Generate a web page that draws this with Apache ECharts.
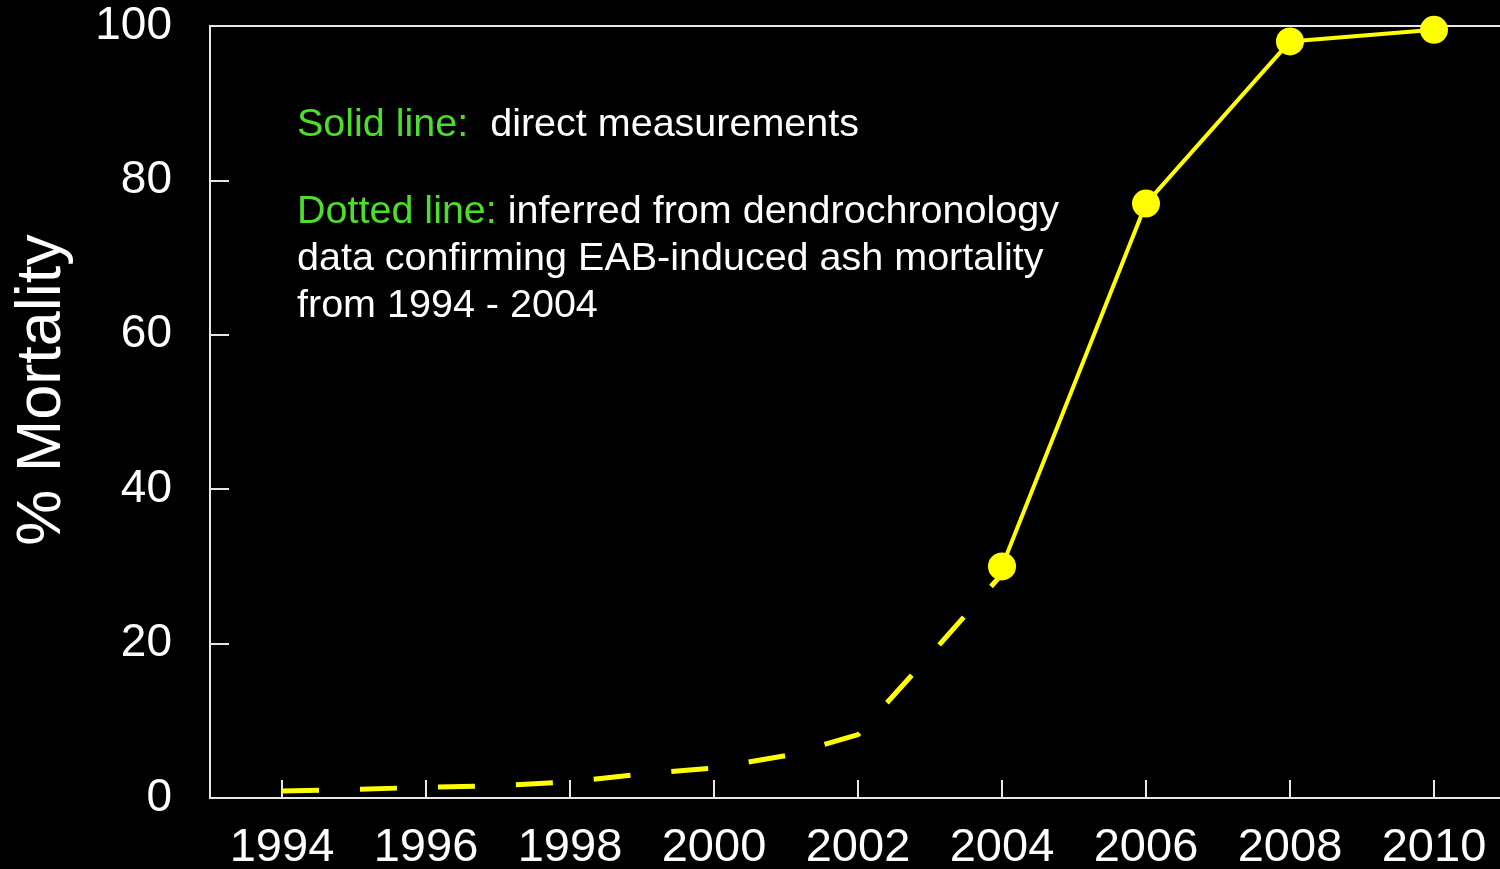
<!DOCTYPE html>
<html>
<head>
<meta charset="utf-8">
<script src="https://cdn.jsdelivr.net/npm/echarts@6/dist/echarts.min.js"></script>
<style>
html,body{margin:0;padding:0;background:#000;}
#chart{width:1500px;height:869px;}
</style>
</head>
<body>
<div id="chart"></div>
<script>
// Data
var xTickYears = [1994, 1996, 1998, 2000, 2002, 2004, 2006, 2008, 2010];
var inferredYears = [1994, 1995, 1996, 1997, 1998, 1999, 2000, 2001, 2002, 2003, 2004];
var inferredMortality = [0.9, 1.1, 1.4, 1.6, 2.1, 3.1, 3.9, 5.5, 8.2, 18.5, 29];
var measuredYears = [2004, 2006, 2008, 2010];
var measuredMortality = [30, 77, 98, 99.5];
var yTicks = [0, 20, 40, 60, 80, 100];

function pairs(xs, ys) { return xs.map(function (x, i) { return [x, ys[i]]; }); }

var font = '"Liberation Sans", Arial, sans-serif';
var axisColor = '#e6e6e6';
var green = '#4cde2a';
var noteFont = '39.5px ' + font;

var chart = echarts.init(document.getElementById('chart'), null, {renderer: 'canvas'});
chart.setOption({
  backgroundColor: '#000',
  animation: false,
  grid: {
    left: 210, top: 26, bottom: 71, width: 1296,
    outerBoundsMode: 'none', containLabel: false,
    show: true, borderColor: axisColor, borderWidth: 2, backgroundColor: 'transparent'
  },
  xAxis: {
    type: 'value', min: 1993, max: 2011,
    axisLine: {show: true, onZero: false, lineStyle: {color: axisColor, width: 2}},
    axisTick: {show: true, inside: true, length: 18, lineStyle: {color: axisColor, width: 2}, customValues: xTickYears},
    axisLabel: {show: true, color: '#fff', fontSize: 47, fontFamily: font, margin: 27, customValues: xTickYears,
      formatter: function (v) { return String(v); }},
    splitLine: {show: false}
  },
  yAxis: {
    type: 'value', min: 0, max: 100, interval: 20,
    axisLine: {show: true, lineStyle: {color: axisColor, width: 2}},
    axisTick: {show: true, inside: true, length: 19, lineStyle: {color: axisColor, width: 2}, customValues: yTicks},
    axisLabel: {show: true, color: '#fff', fontSize: 46, fontFamily: font, margin: 38, customValues: yTicks},
    splitLine: {show: false}
  },
  series: [
    {
      name: 'inferred', type: 'line', data: pairs(inferredYears, inferredMortality),
      showSymbol: false, symbol: 'none',
      lineStyle: {color: '#ffff00', width: 5, type: [37, 41], cap: 'butt'},
      z: 2
    },
    {
      name: 'measured', type: 'line', data: pairs(measuredYears, measuredMortality),
      symbol: 'circle', symbolSize: 28,
      itemStyle: {color: '#ffff00'},
      lineStyle: {color: '#ffff00', width: 4},
      z: 3
    }
  ],
  graphic: [
    {
      type: 'text', x: 43, y: 390, rotation: Math.PI / 2,
      style: {text: '% Mortality', fill: '#fff', font: '63px ' + font, align: 'center', verticalAlign: 'middle'}
    },
    {
      type: 'text', x: 297, y: 125,
      style: {
        text: '{g|Solid line:}  direct measurements',
        fill: '#fff', font: noteFont, verticalAlign: 'middle',
        rich: {g: {fill: green, font: noteFont}}
      }
    },
    {
      type: 'text', x: 297, y: 212,
      style: {
        text: '{g|Dotted line:} inferred from dendrochronology',
        fill: '#fff', font: noteFont, verticalAlign: 'middle',
        rich: {g: {fill: green, font: noteFont}}
      }
    },
    {
      type: 'text', x: 297, y: 259,
      style: {text: 'data confirming EAB-induced ash mortality', fill: '#fff', font: noteFont, verticalAlign: 'middle'}
    },
    {
      type: 'text', x: 297, y: 306,
      style: {text: 'from 1994 - 2004', fill: '#fff', font: noteFont, verticalAlign: 'middle'}
    }
  ]
});
</script>
</body>
</html>
